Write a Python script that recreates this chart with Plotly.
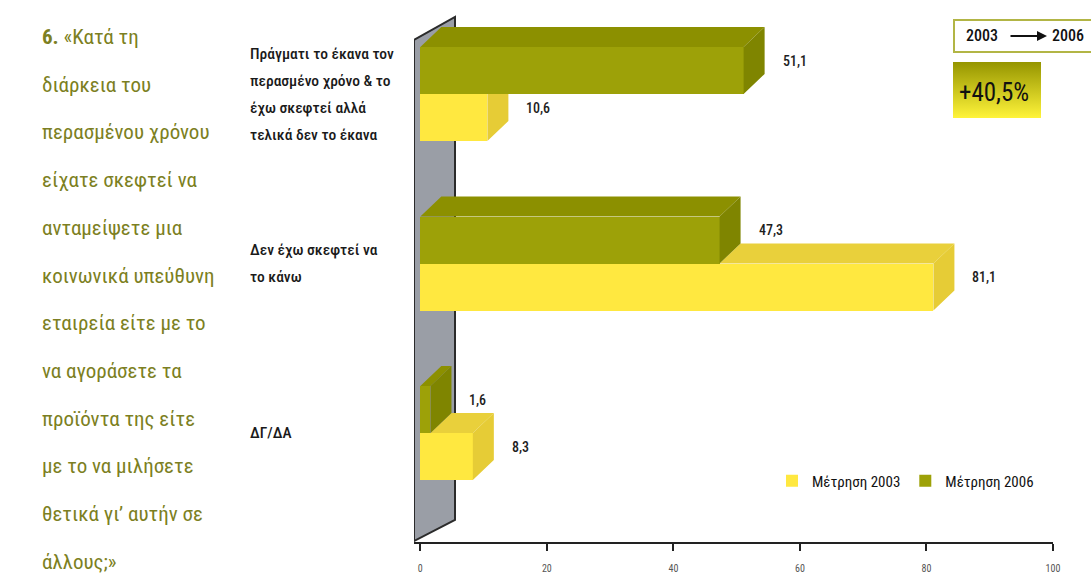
import plotly.graph_objects as go

# ---------------- data ----------------
categories = [
    ["Πράγματι το έκανα τον", "περασμένο χρόνο & το", "έχω σκεφτεί αλλά", "τελικά δεν το έκανα"],
    ["Δεν έχω σκεφτεί να", "το κάνω"],
    ["ΔΓ/ΔΑ"],
]
values_2003 = [10.6, 81.1, 8.3]
values_2006 = [51.1, 47.3, 1.6]
series_names = ["Μέτρηση 2003", "Μέτρηση 2006"]
x_ticks = [0, 20, 40, 60, 80, 100]
question_number = "6."
question_lines = [
    "«Κατά τη",
    "διάρκεια του",
    "περασμένου χρόνου",
    "είχατε σκεφτεί να",
    "ανταμείψετε μια",
    "κοινωνικά υπεύθυνη",
    "εταιρεία είτε με το",
    "να αγοράσετε τα",
    "προϊόντα της είτε",
    "με το να μιλήσετε",
    "θετικά γι’ αυτήν σε",
    "άλλους;»",
]
change_from = "2003"
change_to = "2006"
change_text = "+40,5%"

# ---------------- layout constants ----------------
W, H = 1091, 577
ML, MR, MT, MB = 414, 38, 0, 35
X_RANGE = [-1, 100]
PW, PH = W - ML - MR, H - MT - MB
XPU = PW / (X_RANGE[1] - X_RANGE[0])       # px per x unit
YPU = 169.5                                # px per category unit
Y_TOP = -94 / YPU                          # category 0 boundary at 94 px
Y_BOT = Y_TOP + PH / YPU

def xd(px):
    return X_RANGE[0] + (px - ML) / XPU

def yd(py):
    return Y_TOP + (py - MT) / YPU

def xp(px):  # paper x
    return (px - ML) / PW

def yp(py):  # paper y
    return 1 - (py - MT) / PH

BW = 47 / YPU           # bar thickness
DX = 21 / XPU           # 3D depth in x
DY = 20 / YPU           # 3D depth in y

C06_FRONT, C06_TOP, C06_SIDE = "#9da108", "#8c9000", "#7f8500"
C03_FRONT, C03_TOP, C03_SIDE = "#ffe840", "#e9d03b", "#e6cc36"
FONT = "Liberation Sans Narrow, Arial Narrow, Roboto Condensed, Roboto, sans-serif"
OLIVE_TXT = "#7c7f22"

idx = list(range(len(categories)))
fig = go.Figure()

# front faces (bars)
fig.add_trace(go.Bar(
    x=values_2003, y=[i + BW / 2 for i in idx], base=0, width=BW, orientation="h",
    marker=dict(color=C03_FRONT, line=dict(width=0)), name=series_names[0],
))
fig.add_trace(go.Bar(
    x=values_2006, y=[i - BW / 2 for i in idx], base=0, width=BW, orientation="h",
    marker=dict(color=C06_FRONT, line=dict(width=0)), name=series_names[1],
))

# 3D faces computed from values
def poly_trace(polys, color):
    xs, ys = [], []
    for p in polys:
        for (a, b) in p:
            xs.append(a)
            ys.append(b)
        xs.append(p[0][0]); ys.append(p[0][1])
        xs.append(None); ys.append(None)
    return go.Scatter(x=xs, y=ys, mode="lines", fill="toself", fillcolor=color,
                      line=dict(width=0, color=color), hoverinfo="skip", showlegend=False)

top03, side03, top06, side06 = [], [], [], []
for i in idx:
    v3, v6, b = values_2003[i], values_2006[i], i
    if v3 > v6:
        top03.append([(v6, b), (v3, b), (v3 + DX, b - DY), (v6 + DX, b - DY)])
        side03.append([(v3, b), (v3, b + BW), (v3 + DX, b + BW - DY), (v3 + DX, b - DY)])
    else:
        side03.append([(v3, b), (v3, b + BW), (v3 + DX, b + BW - DY), (v3 + DX, b)])
    top06.append([(0, b - BW), (v6, b - BW), (v6 + DX, b - BW - DY), (DX, b - BW - DY)])
    side06.append([(v6, b - BW), (v6, b), (v6 + DX, b - DY), (v6 + DX, b - BW - DY)])

fig.add_trace(poly_trace(top03, C03_TOP))
fig.add_trace(poly_trace(side03, C03_SIDE))
fig.add_trace(poly_trace(top06, C06_TOP))
fig.add_trace(poly_trace(side06, C06_SIDE))

# gradient box for the change
gx0, gx1, gy0, gy1 = xd(953), xd(1041), yd(62), yd(118)
fig.add_trace(go.Scatter(
    x=[gx0, gx1, gx1, gx0, gx0], y=[gy0, gy0, gy1, gy1, gy0], mode="lines",
    fill="toself", line=dict(width=0),
    fillgradient=dict(type="vertical", colorscale=[[0, "#fff43a"], [1, "#959500"]],
                      start=gy1, stop=gy0),
    hoverinfo="skip", showlegend=False,
))

annotations = []
# value labels
def fmt(v):
    return f"{v:.1f}".replace(".", ",")

LBL_FONT = dict(family=FONT, size=14, color="#1e1e1e", weight=500)
for i in idx:
    annotations.append(dict(x=values_2006[i] + DX, y=i - BW / 2 - DY / 2, text=fmt(values_2006[i]),
                            showarrow=False, xanchor="left", xshift=16, font=LBL_FONT))
    annotations.append(dict(x=values_2003[i] + DX, y=i + BW / 2 - DY / 2, text=fmt(values_2003[i]),
                            showarrow=False, xanchor="left", xshift=16, font=LBL_FONT))

# category labels (left aligned, per line)
for i, lines in enumerate(categories):
    n = len(lines)
    for k, line in enumerate(lines):
        annotations.append(dict(x=xp(248), xref="paper", y=i, yref="y", text=line,
                                showarrow=False, xanchor="left", yanchor="middle",
                                yshift=((n - 1) / 2 - k) * 27,
                                font=dict(family=FONT, size=15.5, color="#1a1a1a", weight=500)))

# question text
for k, line in enumerate(question_lines):
    txt = line if k else f"<b>{question_number}</b> {line}"
    annotations.append(dict(x=xp(40), xref="paper", y=yp(37 + k * 47.7), yref="paper", text=txt,
                            showarrow=False, xanchor="left", yanchor="middle",
                            font=dict(family=FONT, size=21, color=OLIVE_TXT)))

# change box texts
annotations.append(dict(x=xp(964), xref="paper", y=yp(36), yref="paper", text=change_from,
                        showarrow=False, xanchor="left", yanchor="middle",
                        font=dict(family=FONT, size=16, color="#111", weight=500)))
annotations.append(dict(x=xp(1050), xref="paper", y=yp(36), yref="paper", text=change_to,
                        showarrow=False, xanchor="left", yanchor="middle",
                        font=dict(family=FONT, size=16, color="#111", weight=500)))
annotations.append(dict(x=xp(1047), xref="paper", y=yp(36), yref="paper",
                        ax=-38, ay=0, axref="pixel", ayref="pixel", text="",
                        showarrow=True, arrowhead=2, arrowsize=1, arrowwidth=2, arrowcolor="#111"))
annotations.append(dict(x=xp(957), xref="paper", y=yp(92), yref="paper", text=change_text,
                        showarrow=False, xanchor="left", yanchor="middle",
                        font=dict(family=FONT, size=25, color="#111")))

shapes = [
    # back wall
    dict(type="path", xref="x", yref="y", layer="below",
         path=f"M {xd(414)} {yd(541)} L {xd(414)} {yd(40)} L {xd(455)} {yd(17)} "
              f"L {xd(455)} {yd(520)} Z",
         fillcolor="#9a9ea6", line=dict(color="#2b2b2b", width=2)),
    # change box outline
    dict(type="rect", xref="paper", yref="paper", x0=xp(954), x1=xp(1095), y0=yp(20), y1=yp(52),
         line=dict(color="#b2b545", width=2), fillcolor="rgba(0,0,0,0)"),
]

fig.update_layout(
    width=W, height=H,
    margin=dict(l=ML, r=MR, t=MT, b=MB, pad=0),
    paper_bgcolor="white", plot_bgcolor="white",
    barmode="overlay", bargap=0,
    showlegend=True,
    legend=dict(orientation="h", x=xp(772), y=yp(481), xanchor="left", yanchor="middle",
                font=dict(family=FONT, size=15, color="#111"), bgcolor="rgba(0,0,0,0)",
                itemwidth=30, traceorder="normal"),
    xaxis=dict(range=X_RANGE, tickvals=x_ticks, ticktext=[str(t) for t in x_ticks],
               showgrid=False, zeroline=False, showline=True, linecolor="#222", linewidth=2,
               ticks="outside", ticklen=7, tickwidth=2, tickcolor="#222",
               tickfont=dict(family=FONT, size=10, color="#555"), ticklabelstandoff=9,
               fixedrange=True),
    yaxis=dict(range=[Y_BOT, Y_TOP], showgrid=False, zeroline=False, showline=False,
               showticklabels=False, ticks="", fixedrange=True),
    annotations=annotations, shapes=shapes,
)

fig.write_html("out.html")
